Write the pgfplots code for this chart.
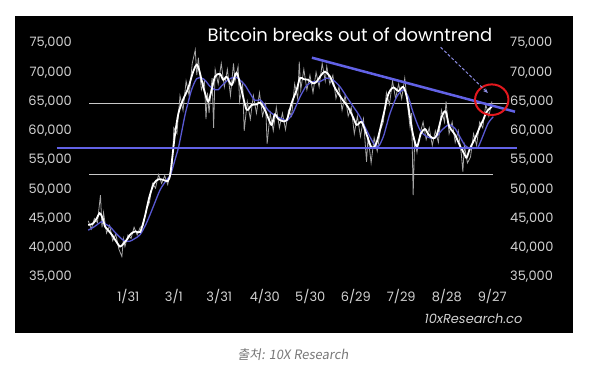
\documentclass[border=0pt]{standalone}
\usepackage{fontspec}
\setmainfont{Poppins}
\newfontfamily\capfont[FakeSlant=0.15]{Noto Sans CJK KR}
\usepackage{pgfplots}
\pgfplotsset{compat=1.18}
\usetikzlibrary{arrows.meta}
\definecolor{bline}{RGB}{98,98,230}
\definecolor{maline}{RGB}{88,88,210}
\definecolor{rawgray}{RGB}{165,165,165}
\definecolor{lvl}{RGB}{200,200,200}
\definecolor{tickc}{RGB}{210,210,210}
\definecolor{capgray}{RGB}{120,120,120}
\definecolor{arrowc}{RGB}{140,140,225}
\definecolor{circred}{RGB}{228,24,30}
\begin{document}
\begin{tikzpicture}
\path[fill=white, use as bounding box] (-15bp,-54bp) rectangle (589bp,333bp);
\begin{axis}[
  at={(0,0)}, anchor=south west,
  scale only axis, width=558bp, height=317bp,
  xmin=-42.9, xmax=322.04, ymin=25427, ymax=79615,
  axis background/.style={fill=black},
  axis line style={draw=none},
  tick style={draw=none},
  clip=false,
  xtick={31.2,61,90.7,120.5,150.2,180,209.7,239.5,269.2},
  xticklabels={1/31,3/1,3/31,4/30,5/30,6/29,7/29,8/28,9/27},
  ytick={35000,40000,45000,50000,55000,60000,65000,70000,75000},
  scaled y ticks=false,
  yticklabel style={anchor=east, inner sep=0pt, xshift=57bp, text=tickc, font=\fontsize{13}{15}\selectfont},
  xticklabel style={anchor=center, inner sep=0pt, yshift=36bp, text=tickc, font=\fontsize{13}{15}\selectfont},
  /pgf/number format/1000 sep={,},
  /pgf/number format/assume math mode=true,
]
% level lines
\addplot[lvl, line width=1.1bp] coordinates {(5.5,64700) (279.5,64700)};
\addplot[lvl, line width=1.1bp] coordinates {(5.5,52500) (269.7,52500)};
% raw daily prices
\addplot[rawgray, line width=0.8bp] coordinates {
(5,44600) (7,43200) (9,45000) (11,44300) (13,49000) (14,43500) (15,46000) (17,42500) (19,43800) (21,41200)
(23,42300) (25,39800) (27,38500) (28,41500) (29,40200) (31,42200) (33,41600) (35,43500) (37,42200) (39,43500)
(41,43800) (43,46500) (45,47700) (47,51000) (49,50200) (51,52500) (53,51000) (55,52300) (57,50800) (59,53500)
(60,54500) (61,60500) (63,59500) (65,66000) (67,63500) (69,68500) (71,66000) (73,71500) (75,73800) (76,69500)
(77,72500) (79,67000) (81,68500) (82,62000) (83,66500) (84,63000) (86,69000) (87,60500) (88,70500) (90,68000)
(92,71500) (94,67500) (96,70500) (98,66000) (100,71500) (101,68500) (103,71000) (104,65000) (106,68000) (107,60000)
(109,65000) (111,62000) (113,66000) (115,63000) (117,66500) (119,62500) (121,64500) (122,57800) (124,63000) (126,60000)
(128,64000) (130,60500) (132,63000) (134,60200) (136,63500) (138,62500) (140,68000) (142,65500) (143,71800) (144,67000)
(146,70500) (148,67000) (150,69500) (152,66500) (154,70000) (156,67500) (158,71500) (160,68500) (161,71000) (163,68000)
(165,69500) (167,65500) (169,67500) (171,63500) (173,66000) (175,62500) (177,64000) (179,59500) (181,62500) (183,59000)
(185,62000) (187,54700) (188,59000) (190,54500) (192,58800) (194,56500) (196,60000) (198,61500) (200,66500) (202,64500)
(204,68500) (206,65500) (208,68000) (210,65500) (212,69000) (214,64000) (215.5,60500) (216.5,63000) (217.5,49000) (218.5,58500)
(220,56300) (222,59500) (224,61500) (226,58500) (228,60500) (230,57500) (232,60000) (234,58000) (236,63500) (238,61500)
(239,65000) (241,59500) (243,61500) (245,58000) (247,60000) (249,56000) (250,53000) (251,57500) (253,54500) (255,55500)
(257,59500) (259,57500) (261,61500) (263,60500) (265,64500) (267,62500) (269,65000)
};
% moving average
\addplot[maline, line width=1.3bp, smooth] coordinates {
(5,43000) (9,43600) (13.8,44450) (16.5,44000) (19.2,43600) (23,42500) (27.9,41300) (32,41100) (35,41500) (38.8,42200)
(43,44170) (47.5,47000) (52,49900) (56.3,51600) (58.6,52300) (61.7,55000) (63.9,57000) (65.5,59000) (68.3,62700) (70.5,65000)
(72.7,67100) (75.9,68900) (79.2,69000) (81.5,68600) (84.6,67600) (87.9,67000) (90,67000) (92.3,67700) (95.6,68500) (98.5,69000)
(102,69100) (104.5,68600) (107.5,67800) (110.8,66400) (114,65200) (117.3,65300) (119.5,64700) (122.7,63500) (126,62800) (129.3,62300)
(132,62000) (134.8,61700) (137,62300) (139,63100) (141,64300) (143.5,65800) (146,67000) (148,67800) (152,68400) (156.6,68400)
(160.9,69000) (165,68700) (169.7,67500) (174,65800) (178.4,64100) (182.7,62400) (187,60100) (191.5,57900) (194.7,57300) (198,59000)
(200,60800) (202.4,63000) (206.7,65800) (211,67000) (214.3,65800) (217.6,63000) (222,60100) (226.4,59000) (230.7,58700) (233.5,59200)
(236.2,60100) (240.5,61000) (243,60800) (244.9,60400) (248,59000) (251.4,57500) (254.7,57000) (258,57000) (260,57200) (263.4,59300)
(266.6,61300) (269.9,62400)
};
% price (smoothed)
\addplot[white, line width=1.8bp, smooth] coordinates {
(5,43900) (8,44100) (10.5,45000) (12.5,45900) (14.5,45000) (16,43600) (18,43000) (20.5,42200) (23,41200) (25.8,40200)
(28,40700) (30,41300) (33,42400) (36,42800) (39,42700) (42,45300) (45,48700) (48,51000) (51,51700) (54,51600)
(57,51400) (58.6,52500) (60,55500) (61.7,59300) (64,63000) (67,65300) (70.4,67300) (73.5,70000) (75.9,71300) (77.5,70400)
(79.2,68600) (81.4,66400) (83.5,65000) (85.7,67000) (88,69300) (91.2,69700) (93.3,68700) (95.6,69200) (98.8,67800) (102,69900)
(105.4,66800) (108.6,63600) (111.9,64400) (115,64500) (117.5,64800) (120.6,63500) (123,62000) (125,61000) (127,62800) (129,62100)
(131.5,61700) (134.8,61800) (138,64700) (141.3,67000) (143.5,69000) (146,68800) (149,68700) (152,68100) (154.4,68400) (157,69400)
(159.8,70100) (163,69300) (166.4,67300) (170.8,65500) (175,64000) (178.4,62200) (180.6,61000) (183.8,61500) (187,59400) (190.4,57100)
(193.6,58000) (198,62600) (201.2,66200) (204.5,67400) (207.8,66800) (211,67500) (213.3,65800) (215.4,62400) (217.6,59100) (220,57300)
(222.5,59500) (225.2,60300) (227.4,59400) (230.5,58700) (233,59300) (236.2,62400) (238.8,63300) (241,60800) (244.9,59300) (248,57500)
(251.4,55800) (252.5,55400) (254.7,57000) (258.5,59000) (261.2,60700) (263.4,61900) (265.6,63250) (268.9,64100)
};
% support and downtrend
\addplot[bline, line width=2bp] coordinates {(-15.6,57000) (285.4,57000)};
\addplot[bline, line width=2.5bp] coordinates {(151.3,72487) (284.1,63257)};
% annotations
\draw[circred, line width=2bp] (axis cs:268.9,65308) ellipse [x radius=16.7bp, y radius=15.3bp];
\draw[arrowc, line width=1bp, dash pattern=on 3bp off 2bp, -{Stealth[length=5bp,width=4bp]}] (axis cs:235.5,74265) -- (axis cs:266.4,66453);
\end{axis}
\begin{axis}[
  at={(0,0)}, anchor=south west,
  scale only axis, width=558bp, height=317bp,
  xmin=-42.9, xmax=322.04, ymin=25427, ymax=79615,
  axis line style={draw=none},
  tick style={draw=none},
  xtick=\empty,
  yticklabel pos=right,
  ytick={35000,40000,45000,50000,55000,60000,65000,70000,75000},
  scaled y ticks=false,
  yticklabel style={anchor=west, inner sep=0pt, xshift=-63bp, text=tickc, font=\fontsize{13}{15}\selectfont},
  /pgf/number format/1000 sep={,},
  /pgf/number format/assume math mode=true,
]
\end{axis}
\node[anchor=base, text=white, inner sep=0pt, font=\fontsize{18}{21}\selectfont] at (335bp,291.3bp) {Bitcoin breaks out of downtrend};
\node[anchor=base, text=tickc, inner sep=0pt, font=\fontsize{13}{15}\selectfont\itshape] at (458.5bp,10bp) {10xResearch.co};
\node[anchor=center, text=capgray, inner sep=0pt, font=\fontsize{13}{15}\capfont] at (278bp,-22bp) {출처: 10X Research};
\end{tikzpicture}
\end{document}
